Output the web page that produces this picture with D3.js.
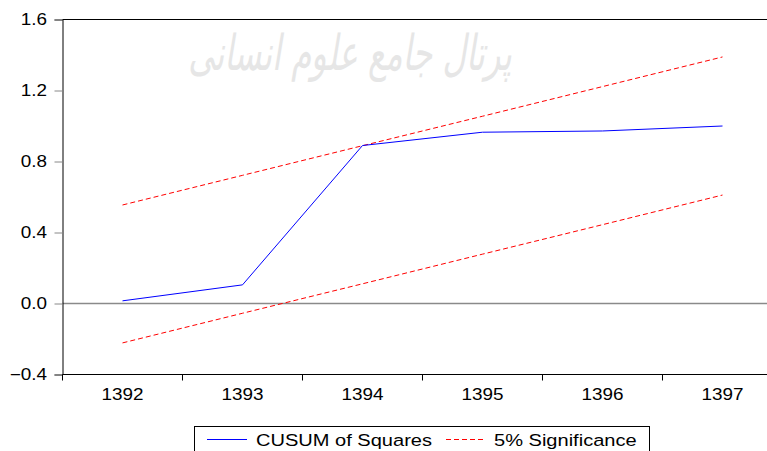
<!DOCTYPE html>
<html><head><meta charset="utf-8">
<script src="https://cdn.jsdelivr.net/npm/d3@7"></script>
<style>body{margin:0;background:#fff}svg{display:block}</style>
</head><body><svg id="c" width="767" height="451"></svg>
<script>
const years = ["1392","1393","1394","1395","1396","1397"];
const cusum = [0.015, 0.105, 0.89, 0.965, 0.972, 1.0];
const upper = [0.555, 0.722, 0.889, 1.055, 1.222, 1.389];
const lower = [-0.222, -0.055, 0.111, 0.278, 0.444, 0.611];
const yTicks = [-0.4, 0.0, 0.4, 0.8, 1.2, 1.6];
const legendLabels = ["CUSUM of Squares", "5% Significance"];

const svg = d3.select("#c");
const L = 62.5, T = 19.5, B = 374.5, bw = 120;
const x = d3.scaleBand().domain(years).range([L, L + bw * years.length]).padding(0);
const y = d3.scaleLinear().domain([-0.4, 1.6]).range([B, T]);
const cx = d => x(d) + x.bandwidth() / 2;
const font = "'Liberation Sans', Arial, sans-serif";
const SX = 1.18;

function label(g, px, py, txt, anchor, size) {
  g.append("text").attr("transform", `translate(${px},${py}) scale(${SX},1)`)
    .attr("text-anchor", anchor).attr("font-family", font).attr("font-size", size)
    .attr("fill", "#000").text(txt);
}

// watermark
svg.append("text").attr("transform", "translate(350,70) scale(0.85,1.3)").attr("text-anchor", "middle")
  .attr("font-family", "'DejaVu Sans', sans-serif").attr("font-size", 38).attr("font-style", "italic")
  .attr("fill", "#e6e6e6").text("پرتال جامع علوم انسانی");

// zero line
svg.append("line").attr("x1", L).attr("x2", 767).attr("y1", y(0)).attr("y2", y(0))
  .attr("stroke", "#8a8a8a").attr("stroke-width", 1.5);

// top frame
svg.append("line").attr("x1", L).attr("x2", 767).attr("y1", T).attr("y2", T).attr("stroke", "#000");

// y axis
const ya = svg.append("g").attr("transform", `translate(${L},0)`)
  .call(d3.axisLeft(y).tickValues(yTicks).tickFormat("").tickSizeOuter(0).tickSize(8));
ya.select(".domain").attr("stroke", "#000");
ya.selectAll(".tick line").attr("stroke", "#888");
const yl = svg.append("g");
yTicks.forEach(v => label(yl, 47, y(v) + 5.5, d3.format(".1f")(v), "end", 16));

// x axis
svg.append("line").attr("x1", L).attr("x2", 767).attr("y1", B).attr("y2", B).attr("stroke", "#000");
svg.append("g").selectAll("line").data(years).join("line")
  .attr("x1", d => x(d)).attr("x2", d => x(d)).attr("y1", B).attr("y2", B + 6).attr("stroke", "#000");
const xl = svg.append("g");
years.forEach(d => label(xl, cx(d), 400, d, "middle", 16));

// lines
const line = d3.line().x((d, i) => cx(years[i])).y(d => y(d));
svg.append("path").datum(upper).attr("d", line).attr("fill", "none").attr("stroke", "#ff0000").attr("stroke-dasharray", "5,3");
svg.append("path").datum(lower).attr("d", line).attr("fill", "none").attr("stroke", "#ff0000").attr("stroke-dasharray", "5,3");
svg.append("path").datum(cusum).attr("d", line).attr("fill", "none").attr("stroke", "#0000ff");

// legend
const lg = svg.append("g");
lg.append("rect").attr("x", 194.5).attr("y", 426.5).attr("width", 455).attr("height", 40)
  .attr("fill", "#fff").attr("stroke", "#000");
lg.append("line").attr("x1", 207).attr("x2", 247).attr("y1", 439.5).attr("y2", 439.5).attr("stroke", "#0000ff");
label(lg, 256, 446, legendLabels[0], "start", 17);
lg.append("line").attr("x1", 446).attr("x2", 486).attr("y1", 439.5).attr("y2", 439.5).attr("stroke", "#ff0000").attr("stroke-dasharray", "5,3");
label(lg, 494, 446, legendLabels[1], "start", 17);
</script></body></html>
